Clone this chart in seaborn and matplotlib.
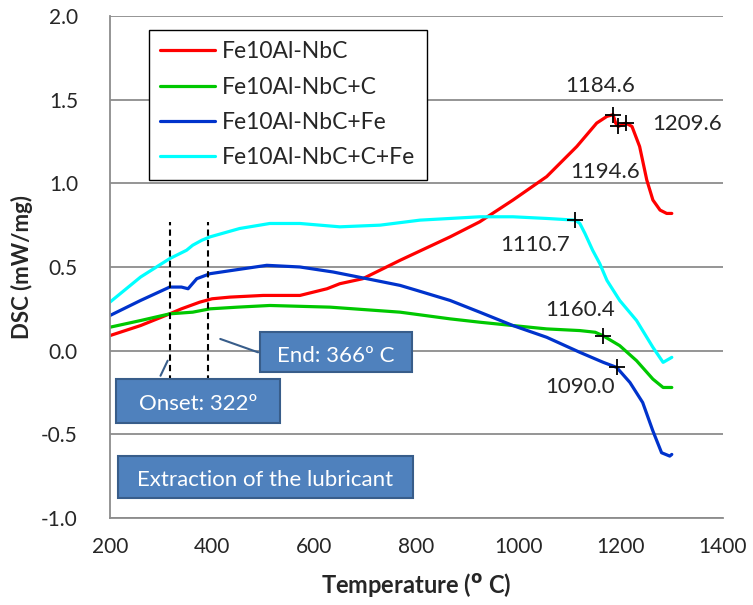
import numpy as np
import pandas as pd
import seaborn as sns
import matplotlib.pyplot as plt
from matplotlib.patches import Rectangle

# temperatures (C) and DSC (mW/mg)
red_t = [200, 260, 317, 340, 376, 400, 435, 500, 572, 625, 650, 695, 768, 866, 924, 989,
         1055, 1114, 1153, 1173, 1185, 1190, 1195, 1210, 1222, 1237, 1251, 1263, 1277, 1290, 1300]
red_y = [0.09, 0.15, 0.22, 0.25, 0.29, 0.31, 0.32, 0.33, 0.33, 0.37, 0.40, 0.43, 0.54, 0.68, 0.77, 0.90,
         1.04, 1.22, 1.36, 1.40, 1.41, 1.36, 1.34, 1.36, 1.34, 1.22, 1.02, 0.90, 0.84, 0.82, 0.82]

green_t = [200, 260, 317, 362, 396, 450, 513, 631, 768, 866, 924, 989, 1055, 1120, 1150, 1165,
           1198, 1231, 1263, 1283, 1300]
green_y = [0.14, 0.18, 0.22, 0.23, 0.25, 0.26, 0.27, 0.26, 0.23, 0.19, 0.17, 0.15, 0.13, 0.12, 0.11, 0.09,
           0.03, -0.06, -0.17, -0.22, -0.22]

blue_t = [200, 260, 317, 340, 353, 370, 396, 440, 507, 572, 637, 703, 768, 801, 866, 924, 989,
          1055, 1120, 1166, 1192, 1218, 1243, 1263, 1280, 1296, 1300]
blue_y = [0.21, 0.30, 0.38, 0.38, 0.37, 0.43, 0.46, 0.48, 0.51, 0.50, 0.47, 0.43, 0.39, 0.36, 0.30, 0.23, 0.15,
          0.08, -0.01, -0.07, -0.10, -0.19, -0.31, -0.48, -0.61, -0.63, -0.62]

cyan_t = [200, 260, 317, 350, 362, 380, 396, 454, 513, 572, 650, 729, 807, 866, 924, 989, 1055,
          1111, 1120, 1130, 1145, 1159, 1173, 1198, 1231, 1263, 1283, 1300]
cyan_y = [0.29, 0.44, 0.55, 0.60, 0.63, 0.66, 0.68, 0.73, 0.76, 0.76, 0.74, 0.75, 0.78, 0.79, 0.80, 0.80, 0.79,
          0.78, 0.76, 0.70, 0.60, 0.52, 0.42, 0.30, 0.18, 0.02, -0.07, -0.04]

series = ["Fe10Al-NbC", "Fe10Al-NbC+C", "Fe10Al-NbC+Fe", "Fe10Al-NbC+C+Fe"]
colors = ["#FF0000", "#00C800", "#0033CC", "#00FFFF"]

# marked points and their labels
mark_t = [1184.6, 1194.6, 1209.6, 1110.7, 1165, 1192]
mark_y = [1.41, 1.34, 1.36, 0.78, 0.09, -0.10]
label_txt = ["1184.6", "1194.6", "1209.6", "1110.7", "1160.4", "1090.0"]
label_t = [1159, 1169, 1261, 1032, 1120, 1120]
label_y = [1.58, 1.07, 1.355, 0.63, 0.24, -0.22]
label_ha = ["center", "center", "left", "center", "center", "center"]

sns.set_style("white")
plt.rcParams['font.family'] = ['Lato', 'DejaVu Sans']

fig = plt.figure(figsize=(7.53, 6.05), dpi=100)
ax = fig.add_axes([0.146, 0.1438, 0.814, 0.8298])

for t, y, name, c in zip([red_t, green_t, blue_t, cyan_t], [red_y, green_y, blue_y, cyan_y], series, colors):
    df = pd.DataFrame({"T": t, "DSC": y})
    sns.lineplot(data=df, x="T", y="DSC", color=c, lw=2.3, label=name, sort=False, ax=ax)

ax.plot(mark_t, mark_y, "k+", ms=11, mew=1.3, zorder=5)
for s, x, y, ha in zip(label_txt, label_t, label_y, label_ha):
    ax.text(x, y, s, ha=ha, va="center", fontsize=16)

# onset / end dashed lines
for x in [317, 392]:
    ax.plot([x, x], [-0.25, 0.77], ls="--", color="black", lw=1.5, dashes=(3, 2))

# callout lines
ax.plot([416, 490], [0.07, -0.01], color="#385D8A", lw=1.5)
ax.plot([313, 299], [-0.06, -0.15], color="#385D8A", lw=1.5)

boxes = [(494, 791, -0.13, 0.11, "End: 366º C"),
         (212, 533, -0.43, -0.17, "Onset: 322º"),
         (216, 793, -0.88, -0.63, "Extraction of the lubricant")]
for x0, x1, y0, y1, s in boxes:
    ax.add_patch(Rectangle((x0, y0), x1 - x0, y1 - y0, facecolor="#4F81BD",
                           edgecolor="#385D8A", lw=1.5, zorder=6))
    ax.text((x0 + x1) / 2, (y0 + y1) / 2 - 0.02, s, color="white", ha="center", va="center",
            fontsize=16, zorder=7)

ax.set_xlim(200, 1400)
ax.set_ylim(-1.0, 2.0)
ax.set_xticks(np.arange(200, 1401, 200))
ax.set_yticks(np.arange(-1.0, 2.01, 0.5))
ax.set_yticklabels([f"{v:.1f}" for v in np.arange(-1.0, 2.01, 0.5)])
ax.yaxis.grid(True, color="#8C8C8C", lw=1.3)
ax.xaxis.grid(False)
for side in ["top", "right"]:
    ax.spines[side].set_visible(False)
for side in ["left", "bottom"]:
    ax.spines[side].set_color("#8C8C8C")
    ax.spines[side].set_linewidth(1.3)
ax.tick_params(axis="both", which="both", direction="out", length=5, width=1.3,
               color="#8C8C8C", labelsize=15)
ax.tick_params(axis="x", pad=9)
ax.tick_params(axis="y", pad=18)
ax.set_xlabel("Temperature ($\\mathbf{^{o}}$ C)", fontsize=17, fontweight="bold", labelpad=10)
ax.set_ylabel("DSC (mW/mg)", fontsize=16, fontweight="bold", labelpad=6)

leg = ax.legend(loc="upper left", bbox_to_anchor=(0.0636, 0.972), borderaxespad=0, fontsize=16.5,
                frameon=True, fancybox=False, edgecolor="black", handlelength=2.4,
                labelspacing=0.62, borderpad=0.5, handletextpad=0.3)
leg.get_frame().set_linewidth(1.0)
leg.get_frame().set_alpha(1)

fig.savefig("out.png", dpi=100)
